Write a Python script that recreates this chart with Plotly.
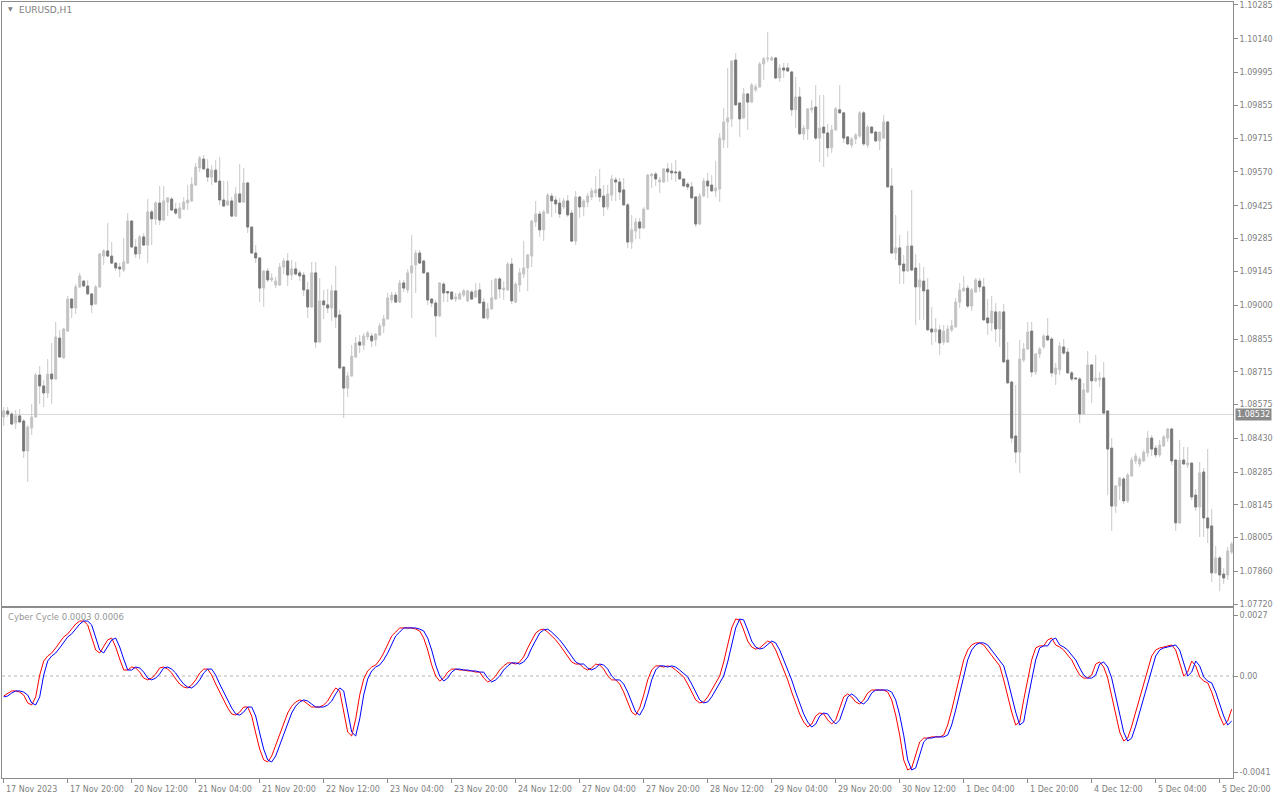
import plotly.graph_objects as go

# ---------------- data (EURUSD H1, one value per bar) ----------------
opens = [
    1.08521, 1.08547, 1.08534, 1.08496, 1.08526, 1.08504, 1.08376, 1.08474, 1.08521, 1.08701,
    1.08654, 1.08624, 1.08705, 1.08684, 1.08859, 1.08774, 1.08889, 1.09026, 1.08988, 1.09078,
    1.09103, 1.09082, 1.09048, 1.09005, 1.09078, 1.09210, 1.09232, 1.09210, 1.09180, 1.09163,
    1.09150, 1.09180, 1.09360, 1.09249, 1.09219, 1.09292, 1.09257, 1.09399, 1.09369, 1.09437,
    1.09364, 1.09441, 1.09454, 1.09411, 1.09373, 1.09411, 1.09437, 1.09446, 1.09514, 1.09587,
    1.09625, 1.09583, 1.09548, 1.09578, 1.09531, 1.09450, 1.09429, 1.09446, 1.09381, 1.09476,
    1.09441, 1.09523, 1.09334, 1.09223, 1.09202, 1.09073, 1.09146, 1.09108, 1.09086, 1.09086,
    1.09163, 1.09189, 1.09129, 1.09155, 1.09138, 1.09129, 1.09065, 1.08992, 1.09138, 1.08842,
    1.09018, 1.09001, 1.08988, 1.09061, 1.08958, 1.08735, 1.08645, 1.08697, 1.08778, 1.08842,
    1.08829, 1.08864, 1.08868, 1.08851, 1.08872, 1.08911, 1.08941, 1.09022, 1.09043, 1.09013,
    1.09095, 1.09065, 1.09138, 1.09172, 1.09223, 1.09189, 1.09138, 1.09026, 1.09009, 1.08954,
    1.09090, 1.09058, 1.09056, 1.09026, 1.09026, 1.09043, 1.09018, 1.09056, 1.09035, 1.09065,
    1.09013, 1.08945, 1.08984, 1.09026, 1.09112, 1.09065, 1.09065, 1.09176, 1.09013, 1.09086,
    1.09133, 1.09159, 1.09210, 1.09356, 1.09390, 1.09322, 1.09394, 1.09467, 1.09450, 1.09437,
    1.09420, 1.09446, 1.09394, 1.09274, 1.09463, 1.09420, 1.09441, 1.09463, 1.09480, 1.09497,
    1.09467, 1.09420, 1.09471, 1.09536, 1.09527, 1.09493, 1.09429, 1.09270, 1.09317, 1.09356,
    1.09330, 1.09411, 1.09553, 1.09561, 1.09527, 1.09527, 1.09583, 1.09574, 1.09570, 1.09570,
    1.09540, 1.09518, 1.09506, 1.09463, 1.09347, 1.09467, 1.09531, 1.09514, 1.09489, 1.09497,
    1.09707, 1.09784, 1.09797, 1.10049, 1.09865, 1.09801, 1.09904, 1.09869, 1.09921, 1.09934,
    1.10032, 1.10054, 1.10049, 1.10058, 1.09972, 1.10015, 1.10015, 1.09998, 1.09836, 1.09891,
    1.09733, 1.09754, 1.09836, 1.09848, 1.09715, 1.09762, 1.09737, 1.09673, 1.09750, 1.09836,
    1.09823, 1.09720, 1.09685, 1.09711, 1.09724, 1.09823, 1.09685, 1.09762, 1.09741, 1.09703,
    1.09715, 1.09784, 1.09510, 1.09223, 1.09245, 1.09176, 1.09146, 1.09253, 1.09159, 1.09078,
    1.09103, 1.09065, 1.08898, 1.08885, 1.08894, 1.08842, 1.08842, 1.08894, 1.08907, 1.09013,
    1.09061, 1.09073, 1.08996, 1.09056, 1.09103, 1.09078, 1.08945, 1.08924, 1.08971, 1.08898,
    1.08971, 1.08765, 1.08671, 1.08440, 1.08371, 1.08765, 1.08812, 1.08889, 1.08714, 1.08791,
    1.08821, 1.08868, 1.08855, 1.08705, 1.08723, 1.08821, 1.08799, 1.08710, 1.08688, 1.08684,
    1.08534, 1.08628, 1.08744, 1.08676, 1.08680, 1.08688, 1.08547, 1.08388, 1.08140, 1.08226,
    1.08256, 1.08162, 1.08269, 1.08333, 1.08320, 1.08333, 1.08367, 1.08431, 1.08388, 1.08359,
    1.08397, 1.08431, 1.08470, 1.08337, 1.08068, 1.08337, 1.08316, 1.08324, 1.08187, 1.08136,
    1.08286, 1.08089, 1.08055, 1.07854, 1.07918, 1.07849, 1.07845, 1.07943,
]
highs = [
    1.08564, 1.08564, 1.08543, 1.08551, 1.08555, 1.08513, 1.08487, 1.08577, 1.08710, 1.08740,
    1.08680, 1.08769, 1.08838, 1.08928, 1.08894, 1.08902, 1.09039, 1.09031, 1.09090, 1.09138,
    1.09108, 1.09108, 1.09052, 1.09086, 1.09223, 1.09240, 1.09352, 1.09270, 1.09185, 1.09180,
    1.09287, 1.09394, 1.09364, 1.09283, 1.09300, 1.09309, 1.09454, 1.09407, 1.09446, 1.09510,
    1.09510, 1.09463, 1.09463, 1.09437, 1.09437, 1.09463, 1.09514, 1.09548, 1.09608, 1.09638,
    1.09643, 1.09625, 1.09600, 1.09621, 1.09634, 1.09531, 1.09531, 1.09463, 1.09506, 1.09604,
    1.09587, 1.09527, 1.09339, 1.09257, 1.09206, 1.09150, 1.09159, 1.09138, 1.09120, 1.09180,
    1.09202, 1.09223, 1.09193, 1.09185, 1.09150, 1.09142, 1.09099, 1.09185, 1.09185, 1.09116,
    1.09065, 1.09069, 1.09086, 1.09168, 1.08980, 1.08740, 1.08714, 1.08829, 1.08864, 1.08872,
    1.08881, 1.08889, 1.08881, 1.08881, 1.08924, 1.08958, 1.09052, 1.09056, 1.09056, 1.09108,
    1.09108, 1.09155, 1.09300, 1.09236, 1.09236, 1.09193, 1.09142, 1.09031, 1.09022, 1.09099,
    1.09099, 1.09061, 1.09061, 1.09052, 1.09056, 1.09069, 1.09065, 1.09065, 1.09095, 1.09095,
    1.09031, 1.09009, 1.09108, 1.09116, 1.09120, 1.09103, 1.09185, 1.09202, 1.09099, 1.09159,
    1.09274, 1.09219, 1.09364, 1.09446, 1.09403, 1.09407, 1.09480, 1.09480, 1.09467, 1.09459,
    1.09459, 1.09471, 1.09407, 1.09489, 1.09467, 1.09454, 1.09480, 1.09501, 1.09553, 1.09583,
    1.09514, 1.09514, 1.09557, 1.09548, 1.09544, 1.09544, 1.09437, 1.09386, 1.09373, 1.09373,
    1.09420, 1.09561, 1.09566, 1.09570, 1.09548, 1.09587, 1.09608, 1.09608, 1.09621, 1.09578,
    1.09544, 1.09527, 1.09527, 1.09467, 1.09480, 1.09544, 1.09566, 1.09557, 1.09617, 1.09737,
    1.09844, 1.10015, 1.10049, 1.10079, 1.09869, 1.09929, 1.09908, 1.09951, 1.09946, 1.10041,
    1.10062, 1.10169, 1.10066, 1.10062, 1.10032, 1.10036, 1.10036, 1.10002, 1.09976, 1.09934,
    1.09771, 1.09844, 1.09878, 1.09942, 1.09899, 1.09899, 1.09775, 1.09771, 1.09848, 1.09942,
    1.09827, 1.09724, 1.09720, 1.09737, 1.09831, 1.09831, 1.09771, 1.09767, 1.09745, 1.09728,
    1.09814, 1.09788, 1.09587, 1.09386, 1.09300, 1.09215, 1.09317, 1.09493, 1.09219, 1.09180,
    1.09163, 1.09116, 1.08992, 1.08945, 1.08915, 1.08915, 1.08915, 1.08937, 1.09031, 1.09095,
    1.09125, 1.09086, 1.09073, 1.09116, 1.09116, 1.09116, 1.09026, 1.09039, 1.09009, 1.08975,
    1.09005, 1.08842, 1.08676, 1.08658, 1.08851, 1.08838, 1.08928, 1.08928, 1.08795, 1.08821,
    1.08876, 1.08945, 1.08864, 1.08752, 1.08842, 1.08855, 1.08817, 1.08718, 1.08692, 1.08692,
    1.08667, 1.08804, 1.08748, 1.08787, 1.08714, 1.08757, 1.08551, 1.08431, 1.08230, 1.08264,
    1.08264, 1.08282, 1.08350, 1.08367, 1.08350, 1.08380, 1.08461, 1.08444, 1.08401, 1.08423,
    1.08444, 1.08474, 1.08474, 1.08341, 1.08423, 1.08393, 1.08393, 1.08329, 1.08213, 1.08329,
    1.08303, 1.08384, 1.08127, 1.07969, 1.07926, 1.07875, 1.07965, 1.07986,
]
lows = [
    1.08483, 1.08521, 1.08487, 1.08470, 1.08496, 1.08346, 1.08243, 1.08444, 1.08517, 1.08577,
    1.08564, 1.08603, 1.08577, 1.08680, 1.08774, 1.08769, 1.08885, 1.08945, 1.08962, 1.09073,
    1.09078, 1.09043, 1.08966, 1.09001, 1.09073, 1.09172, 1.09206, 1.09176, 1.09146, 1.09120,
    1.09142, 1.09176, 1.09245, 1.09202, 1.09197, 1.09253, 1.09180, 1.09257, 1.09343, 1.09343,
    1.09360, 1.09381, 1.09403, 1.09386, 1.09369, 1.09407, 1.09407, 1.09441, 1.09510, 1.09570,
    1.09578, 1.09527, 1.09514, 1.09523, 1.09429, 1.09420, 1.09424, 1.09377, 1.09377, 1.09437,
    1.09437, 1.09309, 1.09219, 1.09180, 1.09013, 1.08992, 1.09099, 1.09099, 1.09073, 1.09082,
    1.09133, 1.09082, 1.09108, 1.09129, 1.09103, 1.09039, 1.08945, 1.08988, 1.08817, 1.08838,
    1.08941, 1.08966, 1.08932, 1.08902, 1.08727, 1.08517, 1.08607, 1.08692, 1.08774, 1.08795,
    1.08808, 1.08851, 1.08821, 1.08825, 1.08868, 1.08881, 1.08937, 1.09009, 1.09009, 1.09009,
    1.09056, 1.09052, 1.08945, 1.09052, 1.09176, 1.09133, 1.09001, 1.08992, 1.08864, 1.08949,
    1.09013, 1.09013, 1.09022, 1.09013, 1.09022, 1.09035, 1.09013, 1.09022, 1.09031, 1.09005,
    1.08941, 1.08937, 1.08980, 1.09022, 1.09031, 1.09022, 1.09061, 1.09005, 1.09009, 1.09056,
    1.09116, 1.09061, 1.09163, 1.09334, 1.09292, 1.09274, 1.09390, 1.09377, 1.09394, 1.09373,
    1.09411, 1.09377, 1.09270, 1.09257, 1.09373, 1.09381, 1.09420, 1.09450, 1.09463, 1.09441,
    1.09381, 1.09407, 1.09446, 1.09446, 1.09450, 1.09424, 1.09245, 1.09240, 1.09283, 1.09283,
    1.09326, 1.09407, 1.09501, 1.09510, 1.09480, 1.09523, 1.09527, 1.09536, 1.09527, 1.09536,
    1.09506, 1.09493, 1.09454, 1.09334, 1.09343, 1.09463, 1.09459, 1.09484, 1.09463, 1.09441,
    1.09673, 1.09673, 1.09762, 1.09852, 1.09720, 1.09797, 1.09750, 1.09865, 1.09912, 1.09929,
    1.09964, 1.10041, 1.10045, 1.09968, 1.09955, 1.09972, 1.09998, 1.09810, 1.09758, 1.09728,
    1.09707, 1.09707, 1.09823, 1.09707, 1.09613, 1.09591, 1.09634, 1.09651, 1.09745, 1.09818,
    1.09694, 1.09685, 1.09673, 1.09690, 1.09715, 1.09681, 1.09673, 1.09733, 1.09698, 1.09664,
    1.09711, 1.09501, 1.09219, 1.09193, 1.09090, 1.09090, 1.09142, 1.09146, 1.08915, 1.08937,
    1.08937, 1.08889, 1.08829, 1.08842, 1.08787, 1.08829, 1.08838, 1.08885, 1.08902, 1.08988,
    1.09056, 1.08988, 1.08975, 1.09052, 1.09056, 1.08932, 1.08872, 1.08889, 1.08842, 1.08821,
    1.08752, 1.08663, 1.08410, 1.08324, 1.08282, 1.08757, 1.08808, 1.08692, 1.08701, 1.08774,
    1.08812, 1.08847, 1.08692, 1.08658, 1.08701, 1.08787, 1.08705, 1.08675, 1.08680, 1.08496,
    1.08530, 1.08624, 1.08581, 1.08671, 1.08650, 1.08534, 1.08187, 1.08033, 1.08110, 1.08166,
    1.08149, 1.08153, 1.08264, 1.08320, 1.08307, 1.08329, 1.08350, 1.08354, 1.08346, 1.08350,
    1.08393, 1.08414, 1.08316, 1.08033, 1.08063, 1.08316, 1.08303, 1.08166, 1.08119, 1.08008,
    1.08008, 1.07982, 1.07815, 1.07849, 1.07777, 1.07806, 1.07824, 1.07935,
]
closes = [
    1.08547, 1.08534, 1.08491, 1.08526, 1.08500, 1.08376, 1.08478, 1.08521, 1.08701, 1.08654,
    1.08624, 1.08705, 1.08684, 1.08864, 1.08778, 1.08898, 1.09026, 1.08988, 1.09078, 1.09125,
    1.09082, 1.09048, 1.09001, 1.09078, 1.09219, 1.09232, 1.09210, 1.09180, 1.09159, 1.09155,
    1.09185, 1.09360, 1.09249, 1.09219, 1.09292, 1.09257, 1.09399, 1.09369, 1.09437, 1.09364,
    1.09446, 1.09459, 1.09407, 1.09394, 1.09416, 1.09441, 1.09450, 1.09518, 1.09591, 1.09630,
    1.09583, 1.09548, 1.09578, 1.09527, 1.09450, 1.09424, 1.09446, 1.09381, 1.09476, 1.09441,
    1.09523, 1.09334, 1.09223, 1.09202, 1.09073, 1.09146, 1.09108, 1.09116, 1.09103, 1.09163,
    1.09189, 1.09129, 1.09155, 1.09133, 1.09125, 1.09065, 1.08992, 1.09138, 1.08842, 1.09018,
    1.09001, 1.08988, 1.09061, 1.08949, 1.08731, 1.08645, 1.08697, 1.08782, 1.08838, 1.08829,
    1.08868, 1.08881, 1.08847, 1.08876, 1.08911, 1.08941, 1.09031, 1.09043, 1.09013, 1.09095,
    1.09073, 1.09138, 1.09168, 1.09223, 1.09180, 1.09138, 1.09022, 1.09009, 1.08954, 1.09095,
    1.09052, 1.09052, 1.09026, 1.09035, 1.09048, 1.09061, 1.09061, 1.09026, 1.09061, 1.09009,
    1.08945, 1.08984, 1.09031, 1.09112, 1.09069, 1.09073, 1.09176, 1.09018, 1.09090, 1.09138,
    1.09159, 1.09215, 1.09360, 1.09390, 1.09322, 1.09399, 1.09471, 1.09446, 1.09433, 1.09390,
    1.09446, 1.09386, 1.09274, 1.09463, 1.09420, 1.09446, 1.09467, 1.09489, 1.09493, 1.09463,
    1.09420, 1.09476, 1.09540, 1.09527, 1.09484, 1.09429, 1.09270, 1.09322, 1.09356, 1.09330,
    1.09411, 1.09557, 1.09561, 1.09540, 1.09536, 1.09583, 1.09570, 1.09566, 1.09566, 1.09540,
    1.09510, 1.09506, 1.09459, 1.09347, 1.09467, 1.09531, 1.09510, 1.09489, 1.09501, 1.09715,
    1.09784, 1.09801, 1.10045, 1.09857, 1.09797, 1.09904, 1.09869, 1.09942, 1.09934, 1.10032,
    1.10054, 1.10058, 1.10058, 1.09972, 1.10015, 1.10006, 1.10002, 1.09836, 1.09891, 1.09733,
    1.09758, 1.09840, 1.09844, 1.09715, 1.09758, 1.09737, 1.09673, 1.09750, 1.09840, 1.09823,
    1.09715, 1.09690, 1.09711, 1.09728, 1.09823, 1.09690, 1.09762, 1.09737, 1.09703, 1.09741,
    1.09784, 1.09506, 1.09223, 1.09245, 1.09172, 1.09146, 1.09253, 1.09150, 1.09078, 1.09108,
    1.09061, 1.08894, 1.08885, 1.08898, 1.08838, 1.08889, 1.08898, 1.08911, 1.09013, 1.09065,
    1.09073, 1.08996, 1.09065, 1.09108, 1.09078, 1.08937, 1.08924, 1.08975, 1.08898, 1.08971,
    1.08757, 1.08667, 1.08431, 1.08371, 1.08769, 1.08812, 1.08885, 1.08714, 1.08791, 1.08812,
    1.08868, 1.08851, 1.08710, 1.08731, 1.08825, 1.08795, 1.08710, 1.08684, 1.08684, 1.08534,
    1.08637, 1.08744, 1.08676, 1.08688, 1.08688, 1.08538, 1.08384, 1.08140, 1.08226, 1.08260,
    1.08162, 1.08273, 1.08337, 1.08354, 1.08341, 1.08371, 1.08431, 1.08384, 1.08359, 1.08401,
    1.08436, 1.08470, 1.08333, 1.08068, 1.08337, 1.08320, 1.08324, 1.08179, 1.08136, 1.08282,
    1.08089, 1.08046, 1.07854, 1.07918, 1.07845, 1.07832, 1.07948, 1.07978,
]

# Cyber Cycle (red) per bar
cycle = [
    -0.00087, -0.00074, -0.00065, -0.00065, -0.00070, -0.00083, -0.00117, -0.00126, -0.00091, 0.00004,
    0.00065, 0.00087, 0.00100, 0.00122, 0.00148, 0.00170, 0.00183, 0.00204, 0.00226, 0.00239,
    0.00239, 0.00222, 0.00170, 0.00113, 0.00100, 0.00126, 0.00157, 0.00165, 0.00126, 0.00074,
    0.00026, 0.00026, 0.00039, 0.00035, 0.00017, -0.00009, -0.00017, -0.00009, 0.00009, 0.00035,
    0.00039, 0.00030, 0.00013, -0.00013, -0.00035, -0.00048, -0.00052, -0.00039, -0.00017, 0.00013,
    0.00030, 0.00030, 0.00004, -0.00035, -0.00070, -0.00104, -0.00139, -0.00165, -0.00170, -0.00157,
    -0.00135, -0.00135, -0.00174, -0.00248, -0.00318, -0.00365, -0.00374, -0.00348, -0.00300, -0.00248,
    -0.00200, -0.00161, -0.00131, -0.00113, -0.00104, -0.00109, -0.00122, -0.00135, -0.00135, -0.00135,
    -0.00126, -0.00109, -0.00078, -0.00052, -0.00065, -0.00157, -0.00244, -0.00261, -0.00187, -0.00083,
    -0.00013, 0.00022, 0.00039, 0.00048, 0.00070, 0.00100, 0.00139, 0.00174, 0.00191, 0.00209,
    0.00209, 0.00209, 0.00209, 0.00204, 0.00196, 0.00165, 0.00113, 0.00048, 0.00000, -0.00022,
    -0.00009, 0.00017, 0.00030, 0.00030, 0.00026, 0.00026, 0.00022, 0.00022, 0.00017, 0.00017,
    -0.00009, -0.00026, -0.00017, 0.00000, 0.00026, 0.00044, 0.00057, 0.00057, 0.00052, 0.00061,
    0.00083, 0.00122, 0.00157, 0.00187, 0.00200, 0.00204, 0.00191, 0.00174, 0.00157, 0.00135,
    0.00109, 0.00087, 0.00061, 0.00052, 0.00052, 0.00035, 0.00026, 0.00035, 0.00052, 0.00048,
    0.00030, 0.00000, -0.00017, -0.00017, -0.00035, -0.00070, -0.00117, -0.00157, -0.00170, -0.00139,
    -0.00083, -0.00017, 0.00026, 0.00044, 0.00044, 0.00039, 0.00044, 0.00039, 0.00026, 0.00013,
    -0.00004, -0.00035, -0.00070, -0.00104, -0.00117, -0.00113, -0.00091, -0.00061, -0.00035, 0.00000,
    0.00061, 0.00135, 0.00209, 0.00248, 0.00244, 0.00200, 0.00152, 0.00126, 0.00117, 0.00122,
    0.00139, 0.00152, 0.00144, 0.00113, 0.00070, 0.00026, -0.00017, -0.00070, -0.00117, -0.00165,
    -0.00200, -0.00222, -0.00209, -0.00174, -0.00161, -0.00165, -0.00191, -0.00209, -0.00191, -0.00139,
    -0.00091, -0.00078, -0.00091, -0.00113, -0.00122, -0.00104, -0.00074, -0.00061, -0.00061, -0.00061,
    -0.00061, -0.00070, -0.00104, -0.00170, -0.00257, -0.00365, -0.00409, -0.00400, -0.00344, -0.00287,
    -0.00270, -0.00270, -0.00265, -0.00265, -0.00265, -0.00257, -0.00213, -0.00148, -0.00074, -0.00009,
    0.00070, 0.00113, 0.00135, 0.00144, 0.00144, 0.00135, 0.00113, 0.00091, 0.00070, 0.00044,
    -0.00017, -0.00091, -0.00157, -0.00213, -0.00200, -0.00104, -0.00017, 0.00070, 0.00122, 0.00131,
    0.00131, 0.00157, 0.00165, 0.00135, 0.00126, 0.00113, 0.00091, 0.00070, 0.00035, 0.00004,
    -0.00009, -0.00009, 0.00004, 0.00052, 0.00061, 0.00039, -0.00009, -0.00083, -0.00170, -0.00244,
    -0.00283, -0.00270, -0.00218, -0.00157, -0.00091, -0.00026, 0.00035, 0.00087, 0.00113, 0.00122,
    0.00126, 0.00131, 0.00135, 0.00113, 0.00061, 0.00000, 0.00017, 0.00065, 0.00044, -0.00004,
    -0.00022, -0.00030, -0.00070, -0.00126, -0.00174, -0.00213, -0.00196, -0.00144,
]
# Trigger (blue) = cycle value of the previous bar
trigger_first = -0.00091
trigger = [trigger_first] + cycle[:-1]

price_ticks = [1.10285, 1.10140, 1.09995, 1.09855, 1.09715, 1.09570, 1.09425, 1.09285, 1.09145,
               1.09000, 1.08855, 1.08715, 1.08575, 1.08430, 1.08285, 1.08145, 1.08005, 1.07860, 1.07720]
price_tick_text = ["%.5f" % v for v in price_ticks]
level_price = 1.08532
ind_ticks = [0.00265, 0.0, -0.00418]
ind_tick_text = ["0.0027", "0.00", "-0.0041"]
time_tick_idx = [0, 16, 32, 48, 64, 80, 96, 112, 128, 144, 160, 176, 192, 208, 224, 240, 256, 272, 288, 304]
time_tick_text = ["17 Nov 2023", "17 Nov 20:00", "20 Nov 12:00", "21 Nov 04:00", "21 Nov 20:00",
                  "22 Nov 12:00", "23 Nov 04:00", "23 Nov 20:00", "24 Nov 12:00", "27 Nov 04:00",
                  "27 Nov 20:00", "28 Nov 12:00", "29 Nov 04:00", "29 Nov 20:00", "30 Nov 12:00",
                  "1 Dec 04:00", "1 Dec 20:00", "4 Dec 12:00", "5 Dec 04:00", "5 Dec 20:00"]

# ---------------- styling ----------------
W, H = 1280, 800
FRAME = "#8c8c8c"
TXT = "#808080"
BULL = "#c3c3c3"
BEAR = "#787878"
WICK = "#c8c8c8"
FONT = "DejaVu Sans"


def fx(p):
    return p / W


def fy(p):
    return 1 - p / H


n = len(opens)
xi = list(range(n))
body_base = [min(o, c) for o, c in zip(opens, closes)]
body_len = [abs(c - o) for o, c in zip(opens, closes)]
body_col = [BULL if c >= o else BEAR for o, c in zip(opens, closes)]
wick_len = [h - l for h, l in zip(highs, lows)]

fig = go.Figure()
fig.add_trace(go.Bar(x=xi, y=wick_len, base=lows, width=0.25,
                     marker=dict(color=WICK, line=dict(width=0)),
                     xaxis="x", yaxis="y", hoverinfo="skip"))
fig.add_trace(go.Bar(x=xi, y=body_len, base=body_base, width=0.5,
                     marker=dict(color=body_col, line=dict(color=body_col, width=1)),
                     xaxis="x", yaxis="y", hoverinfo="skip"))
fig.add_trace(go.Scatter(x=xi, y=cycle, mode="lines", line=dict(color="#ff0000", width=1),
                         xaxis="x2", yaxis="y2", hoverinfo="skip"))
fig.add_trace(go.Scatter(x=xi, y=trigger, mode="lines", line=dict(color="#0000ff", width=1),
                         xaxis="x2", yaxis="y2", hoverinfo="skip"))

xr = [-0.425, 307.325]
xdom = [fx(2), fx(1233)]
common_x = dict(domain=xdom, range=xr, showgrid=False, zeroline=False, showline=True,
                mirror=True, linecolor=FRAME, linewidth=1, fixedrange=True)

fig.update_layout(
    width=W, height=H, autosize=False,
    margin=dict(l=0, r=0, t=0, b=0, pad=0, autoexpand=False),
    paper_bgcolor="white", plot_bgcolor="white",
    showlegend=False, barmode="overlay", hovermode=False,
    xaxis=dict(**common_x, anchor="y", showticklabels=False, ticks=""),
    yaxis=dict(domain=[fy(606), fy(2)], range=[1.077123, 1.102974], side="right",
               tickvals=price_ticks, ticktext=price_tick_text, ticks="outside", ticklen=4,
               tickcolor=FRAME, tickfont=dict(family=FONT, size=8, color=TXT),
               showgrid=False, zeroline=False, showline=True, mirror=True,
               linecolor=FRAME, linewidth=1, fixedrange=True),
    xaxis2=dict(**common_x, anchor="y2", tickvals=time_tick_idx, ticks="outside", ticklen=4,
                tickcolor=FRAME, showticklabels=False),
    yaxis2=dict(domain=[fy(778), fy(608)], range=[-0.004437, 0.002958], side="right",
                anchor="x2", tickvals=ind_ticks, ticktext=ind_tick_text, ticks="outside",
                ticklen=4, tickcolor=FRAME, tickfont=dict(family=FONT, size=8, color=TXT),
                showgrid=False, zeroline=False, showline=True, mirror=True,
                linecolor=FRAME, linewidth=1, fixedrange=True),
)

# level line and zero line
fig.add_shape(type="line", xref="x domain", yref="y", x0=0, x1=1, y0=level_price, y1=level_price,
              line=dict(color="#d9d9d9", width=1), layer="below")
fig.add_shape(type="line", xref="x2 domain", yref="y2", x0=0, x1=1, y0=0, y1=0,
              line=dict(color="#b4b4b4", width=1, dash="3px,3px"), layer="below")

annotations = [
    dict(x=fx(1235), y=level_price, xref="paper", yref="y", xanchor="left", yanchor="middle",
         text="%.5f" % level_price, showarrow=False, bgcolor="#8a8a8a", borderpad=1,
         font=dict(family=FONT, size=8, color="white")),
    dict(x=fx(6), y=fy(9), xref="paper", yref="paper", xanchor="left", yanchor="middle",
         text="▼", showarrow=False, font=dict(family=FONT, size=6, color=TXT)),
    dict(x=fx(17), y=fy(10), xref="paper", yref="paper", xanchor="left", yanchor="middle",
         text="EURUSD,H1", showarrow=False, font=dict(family=FONT, size=9, color=TXT)),
    dict(x=fx(6), y=fy(617), xref="paper", yref="paper", xanchor="left", yanchor="middle",
         text="Cyber Cycle 0.0003 0.0006", showarrow=False,
         font=dict(family=FONT, size=8.5, color="#969696")),
]
for idx, txt in zip(time_tick_idx, time_tick_text):
    annotations.append(dict(x=idx, y=fy(783), xref="x2", yref="paper", xanchor="left",
                            yanchor="top", xshift=0, text=txt, showarrow=False,
                            font=dict(family=FONT, size=8, color=TXT)))
fig.update_layout(annotations=annotations)

page_css = ("var s=document.createElement('style');"
            "s.innerHTML='html,body{margin:0;padding:0;overflow:hidden;height:800px;}"
            "body>div{line-height:0;font-size:0;height:800px;overflow:hidden;}"
            ".svg-container{display:block !important;}';"
            "document.head.appendChild(s);")

fig.write_html("out.html", config={"displayModeBar": False, "staticPlot": True, "responsive": False},
               post_script=page_css)
